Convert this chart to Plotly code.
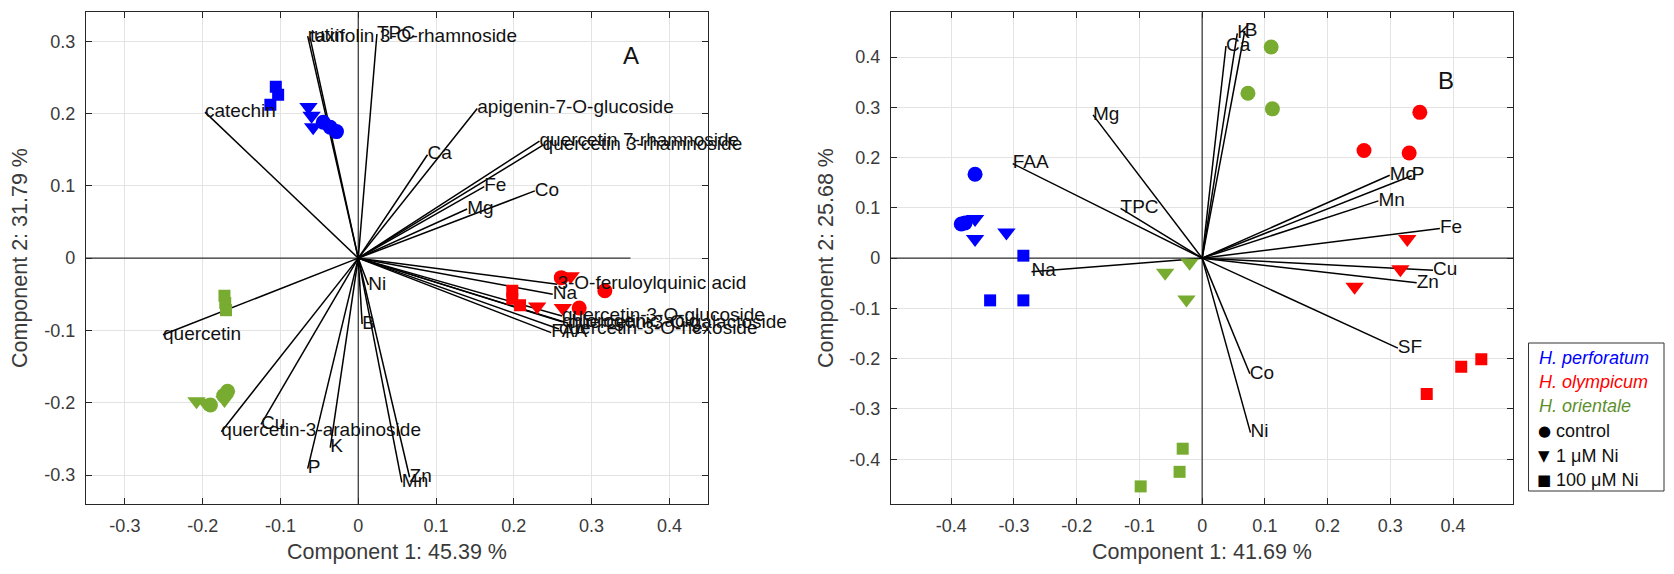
import plotly.graph_objects as go

# ---------------- Panel A : loadings ----------------
A_var_names = ["rutin", "taxifolin 3-O-rhamnoside", "TPC", "catechin", "apigenin-7-O-glucoside",
               "quercetin 7-rhamnoside", "quercetin 3-rhamnoside", "Ca", "Fe", "Mg", "Co",
               "3-O-feruloylquinic acid", "Na", "quercetin-3-O-glucoside", "chlorogenic acid",
               "quercetin-3-O-galactoside", "quercetin-3-O-hexoside", "FAA",
               "Ni", "B", "quercetin", "quercetin-3-arabinoside", "Cu", "P", "K", "Mn", "Zn"]
A_var_x = [-0.065, -0.062, 0.024, -0.197, 0.153, 0.233, 0.237, 0.089, 0.162, 0.140, 0.227,
           0.256, 0.250, 0.262, 0.262, 0.270, 0.258, 0.248,
           0.013, 0.005, -0.251, -0.176, -0.125, -0.065, -0.036, 0.056, 0.066]
A_var_y = [0.307, 0.305, 0.310, 0.202, 0.207, 0.162, 0.156, 0.143, 0.099, 0.068, 0.093,
           -0.036, -0.050, -0.080, -0.088, -0.090, -0.098, -0.103,
           -0.037, -0.091, -0.106, -0.240, -0.230, -0.291, -0.262, -0.310, -0.303]

# ---------------- Panel B : loadings ----------------
B_var_names = ["Ca", "K", "B", "Mg", "FAA", "TPC", "Na", "Co", "Ni", "SF",
               "Mo", "P", "Mn", "Fe", "Cu", "Zn"]
B_var_x = [0.038, 0.056, 0.068, -0.174, -0.302, -0.130, -0.272, 0.076, 0.077, 0.312,
           0.299, 0.334, 0.281, 0.379, 0.368, 0.342]
B_var_y = [0.422, 0.447, 0.452, 0.285, 0.188, 0.099, -0.027, -0.230, -0.347, -0.179,
           0.165, 0.164, 0.114, 0.059, -0.024, -0.049]

# ---------------- Scores (3 replicates x 3 treatments per species) ----------------
treatments = ["control", "control", "control",
              "1 μM Ni", "1 μM Ni", "1 μM Ni",
              "100 μM Ni", "100 μM Ni", "100 μM Ni"]

A_perf_x = [-0.045, -0.036, -0.028, -0.064, -0.060, -0.058, -0.106, -0.103, -0.113]
A_perf_y = [0.188, 0.181, 0.175, 0.209, 0.197, 0.181, 0.237, 0.226, 0.212]
A_olym_x = [0.261, 0.317, 0.284, 0.273, 0.230, 0.263, 0.198, 0.198, 0.208]
A_olym_y = [-0.027, -0.045, -0.069, -0.025, -0.067, -0.069, -0.045, -0.056, -0.065]
A_orie_x = [-0.168, -0.173, -0.190, -0.208, -0.197, -0.172, -0.172, -0.171, -0.170]
A_orie_y = [-0.184, -0.190, -0.203, -0.198, -0.200, -0.196, -0.052, -0.062, -0.072]

B_perf_x = [-0.362, -0.384, -0.378, -0.362, -0.362, -0.312, -0.285, -0.338, -0.285]
B_perf_y = [0.167, 0.068, 0.070, 0.078, 0.038, 0.051, 0.005, -0.084, -0.084]
B_olym_x = [0.347, 0.258, 0.330, 0.327, 0.316, 0.243, 0.445, 0.413, 0.358]
B_olym_y = [0.290, 0.214, 0.209, 0.038, -0.022, -0.057, -0.201, -0.216, -0.270]
B_orie_x = [0.073, 0.112, 0.110, -0.020, -0.059, -0.025, -0.031, -0.036, -0.098]
B_orie_y = [0.328, 0.297, 0.420, -0.009, -0.029, -0.082, -0.379, -0.425, -0.454]

species_names = ["H. perforatum", "H. olympicum", "H. orientale"]
species_colors = ["#0000FF", "#FF0000", "#77AC30"]
legend_text_colors = ["#0000FF", "#FF0000", "#5E8F2E"]
treatment_names = ["control", "1 μM Ni", "100 μM Ni"]
treatment_symbols = ["circle", "triangle-down", "square"]
treatment_sizes = [15, 16, 12]
treatment_glyphs = ["●", "▼", "■"]

# axis settings
A_xrange = [-0.35, 0.45]
A_yrange = [-0.34, 0.34]
B_xrange = [-0.496, 0.496]
B_yrange = [-0.489, 0.489]
A_xticks = [-0.3, -0.2, -0.1, 0, 0.1, 0.2, 0.3, 0.4]
A_xticktext = ["-0.3", "-0.2", "-0.1", "0", "0.1", "0.2", "0.3", "0.4"]
A_yticks = [-0.3, -0.2, -0.1, 0, 0.1, 0.2, 0.3]
A_yticktext = ["-0.3", "-0.2", "-0.1", "0", "0.1", "0.2", "0.3"]
B_ticks = [-0.4, -0.3, -0.2, -0.1, 0, 0.1, 0.2, 0.3, 0.4]
B_ticktext = ["-0.4", "-0.3", "-0.2", "-0.1", "0", "0.1", "0.2", "0.3", "0.4"]

W, H = 1674, 574
FONT = "Arial, Liberation Sans, Helvetica, sans-serif"
AX = "#262626"

fig = go.Figure()


def add_panel(xa, ya, names, vx, vy, hline, vline, scores):
    # biplot axes lines
    fig.add_trace(go.Scatter(x=[hline[0], hline[1]], y=[0, 0], mode="lines",
                             line=dict(color="#303030", width=1.2), xaxis=xa, yaxis=ya,
                             showlegend=False, hoverinfo="skip"))
    fig.add_trace(go.Scatter(x=[0, 0], y=[vline[0], vline[1]], mode="lines",
                             line=dict(color="#303030", width=1.2), xaxis=xa, yaxis=ya,
                             showlegend=False, hoverinfo="skip"))
    # vectors
    lx, ly = [], []
    for x, y in zip(vx, vy):
        lx += [0, x, None]
        ly += [0, y, None]
    fig.add_trace(go.Scatter(x=lx, y=ly, mode="lines", line=dict(color="black", width=1.5),
                             xaxis=xa, yaxis=ya, showlegend=False, hoverinfo="skip"))
    # scores
    for sp, (sx, sy) in enumerate(scores):
        for t, tname in enumerate(treatment_names):
            px_ = [x for x, tr in zip(sx, treatments) if tr == tname]
            py_ = [y for y, tr in zip(sy, treatments) if tr == tname]
            fig.add_trace(go.Scatter(x=px_, y=py_, mode="markers", xaxis=xa, yaxis=ya,
                                     marker=dict(symbol=treatment_symbols[t], size=treatment_sizes[t],
                                                 color=species_colors[sp], line=dict(width=0)),
                                     showlegend=False, name=species_names[sp] + " " + tname))
    # labels
    fig.add_trace(go.Scatter(x=vx, y=vy, mode="text", text=names, textposition="middle right",
                             textfont=dict(family=FONT, size=19, color="#111111"),
                             cliponaxis=False,
                             xaxis=xa, yaxis=ya, showlegend=False, hoverinfo="skip"))


add_panel("x", "y", A_var_names, A_var_x, A_var_y, [A_xrange[0], 0.35], A_yrange,
          [(A_perf_x, A_perf_y), (A_olym_x, A_olym_y), (A_orie_x, A_orie_y)])
add_panel("x2", "y2", B_var_names, B_var_x, B_var_y, B_xrange, B_yrange,
          [(B_perf_x, B_perf_y), (B_olym_x, B_olym_y), (B_orie_x, B_orie_y)])

axis_common = dict(showgrid=True, gridcolor="#E3E3E3", gridwidth=1, zeroline=False,
                   showline=True, linecolor=AX, linewidth=1.3, mirror="ticks",
                   ticks="inside", ticklen=6, tickcolor=AX, tickwidth=1,
                   tickfont=dict(family=FONT, size=18, color="#3A3A3A"))


# pixel -> paper helpers
def px(v):
    return v / W


def py(v):
    return 1 - v / H


fig.update_layout(
    width=W, height=H, margin=dict(l=0, r=0, t=0, b=0),
    paper_bgcolor="white", plot_bgcolor="white", showlegend=False,
    xaxis=dict(domain=[px(86), px(708.3)], range=A_xrange, tickvals=A_xticks, ticktext=A_xticktext,
               anchor="y", ticklabelstandoff=5, **axis_common),
    yaxis=dict(domain=[py(504), py(12.3)], range=A_yrange, tickvals=A_yticks, ticktext=A_yticktext,
               anchor="x", ticklabelstandoff=6, **axis_common),
    xaxis2=dict(domain=[px(891), px(1513.3)], range=B_xrange, tickvals=B_ticks, ticktext=B_ticktext,
                anchor="y2", ticklabelstandoff=5, **axis_common),
    yaxis2=dict(domain=[py(504), py(12.3)], range=B_yrange, tickvals=B_ticks, ticktext=B_ticktext,
                anchor="x2", ticklabelstandoff=6, **axis_common),
)

ann = []
title_font = dict(family=FONT, size=21.5, color="#3A3A3A")
ann.append(dict(text="Component 1: 45.39 %", x=px(397), y=py(552), xref="paper", yref="paper",
                showarrow=False, font=title_font, xanchor="center", yanchor="middle"))
ann.append(dict(text="Component 1: 41.69 %", x=px(1202), y=py(552), xref="paper", yref="paper",
                showarrow=False, font=title_font, xanchor="center", yanchor="middle"))
ann.append(dict(text="Component 2: 31.79 %", x=px(20), y=py(258), xref="paper", yref="paper",
                showarrow=False, font=title_font, textangle=-90, xanchor="center", yanchor="middle"))
ann.append(dict(text="Component 2: 25.68 %", x=px(826), y=py(258), xref="paper", yref="paper",
                showarrow=False, font=title_font, textangle=-90, xanchor="center", yanchor="middle"))
ann.append(dict(text="A", x=0.351, y=0.28, xref="x", yref="y", showarrow=False,
                font=dict(family=FONT, size=24, color="#111111")))
ann.append(dict(text="B", x=0.389, y=0.353, xref="x2", yref="y2", showarrow=False,
                font=dict(family=FONT, size=24, color="#111111")))

# legend box
legend_rows_y = [357.6, 381.5, 406, 430.5, 455.5, 480]
for i, name in enumerate(species_names):
    ann.append(dict(text="<i>" + name + "</i>", x=px(1537), y=py(legend_rows_y[i]), xref="paper",
                    yref="paper", showarrow=False, xanchor="left", yanchor="middle",
                    font=dict(family=FONT, size=18, color=legend_text_colors[i])))
for i, name in enumerate(treatment_names):
    ann.append(dict(text=treatment_glyphs[i], x=px(1544), y=py(legend_rows_y[3 + i]), xref="paper",
                    yref="paper", showarrow=False, xanchor="center", yanchor="middle",
                    font=dict(family="DejaVu Sans", size=15, color="black")))
    ann.append(dict(text=name, x=px(1554), y=py(legend_rows_y[3 + i]), xref="paper",
                    yref="paper", showarrow=False, xanchor="left", yanchor="middle",
                    font=dict(family=FONT, size=18, color="#111111")))
fig.update_layout(annotations=ann,
                  shapes=[dict(type="rect", xref="paper", yref="paper", x0=px(1528.5), x1=px(1664),
                               y0=py(491), y1=py(343), line=dict(color="#333333", width=1),
                               fillcolor="white", layer="below")])

fig.write_html("out.html", config={"displayModeBar": False},
               post_script="document.body.style.margin='0px';")
